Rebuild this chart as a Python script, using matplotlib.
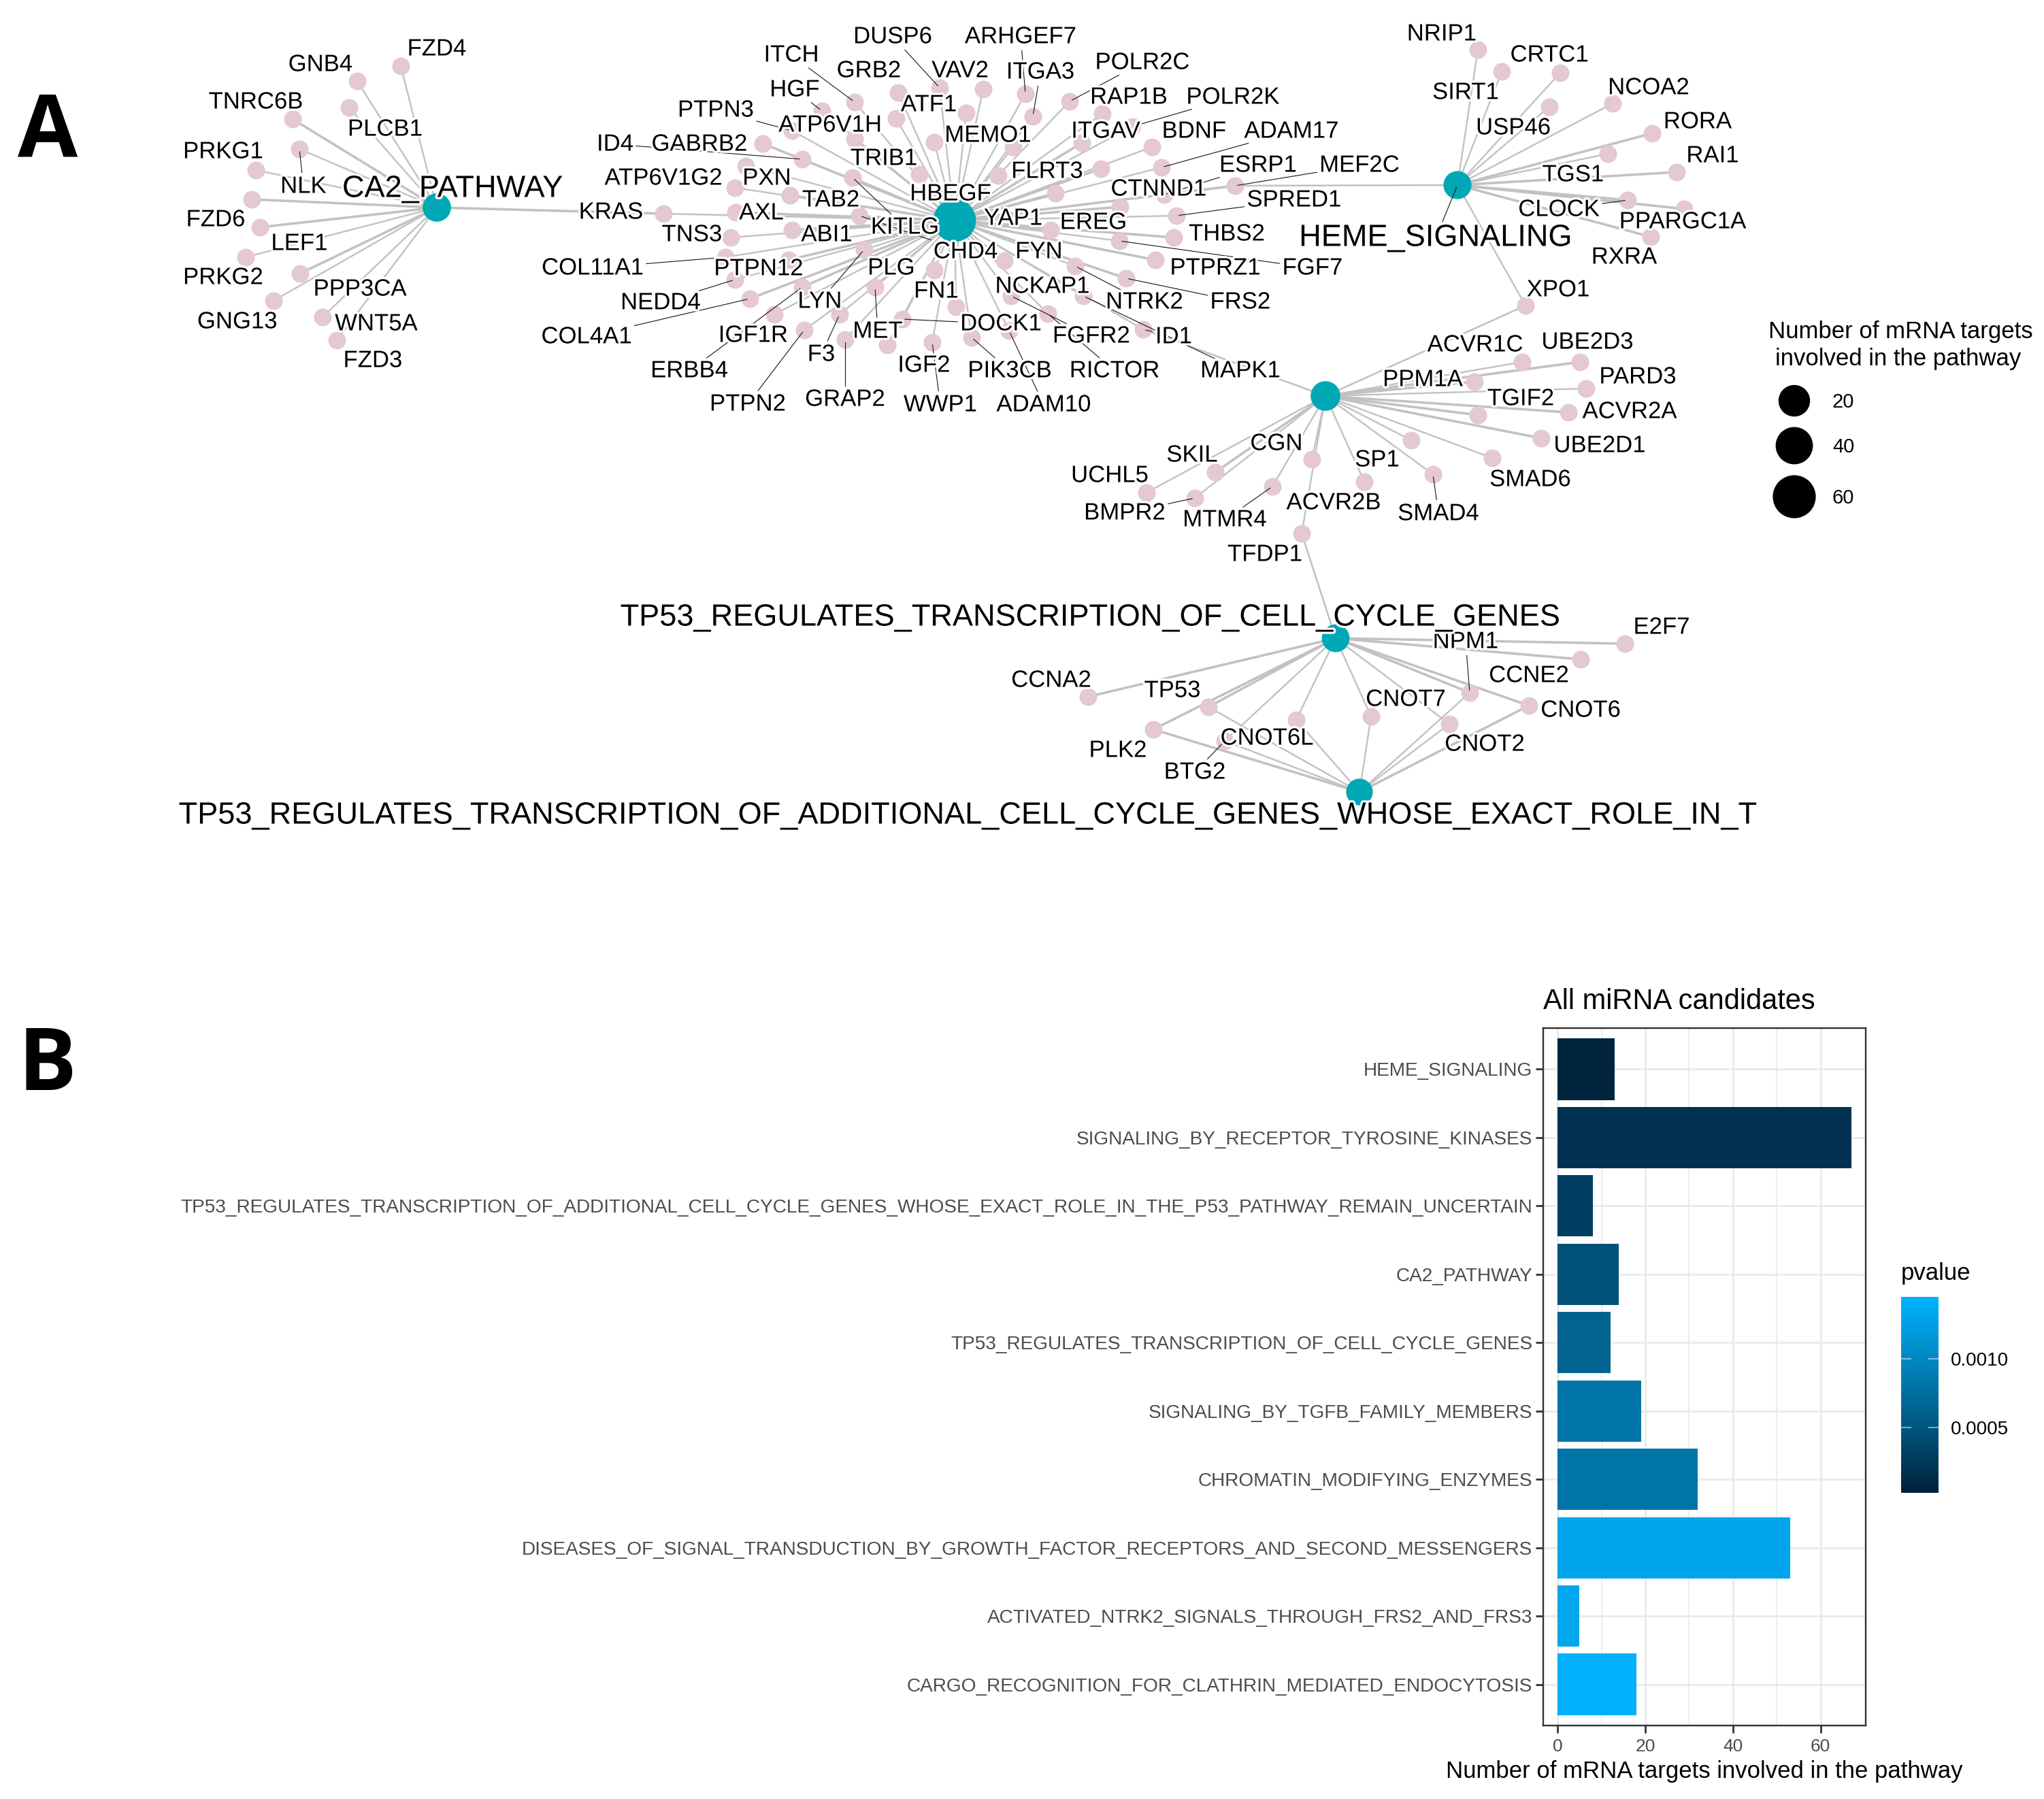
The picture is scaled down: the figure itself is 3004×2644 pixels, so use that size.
import matplotlib
matplotlib.use("Agg")
import matplotlib.pyplot as plt
import matplotlib.patheffects as pe
from matplotlib.colors import LinearSegmentedColormap, Normalize
from matplotlib.cm import ScalarMappable
import numpy as np

plt.rcParams['font.family'] = ['Liberation Sans', 'DejaVu Sans']

W, H = 3004, 2644
DPI = 100

# ---------- Panel B data ----------
pathways = ["HEME_SIGNALING", "SIGNALING_BY_RECEPTOR_TYROSINE_KINASES",
            "TP53_REGULATES_TRANSCRIPTION_OF_ADDITIONAL_CELL_CYCLE_GENES_WHOSE_EXACT_ROLE_IN_THE_P53_PATHWAY_REMAIN_UNCERTAIN",
            "CA2_PATHWAY", "TP53_REGULATES_TRANSCRIPTION_OF_CELL_CYCLE_GENES",
            "SIGNALING_BY_TGFB_FAMILY_MEMBERS", "CHROMATIN_MODIFYING_ENZYMES",
            "DISEASES_OF_SIGNAL_TRANSDUCTION_BY_GROWTH_FACTOR_RECEPTORS_AND_SECOND_MESSENGERS",
            "ACTIVATED_NTRK2_SIGNALS_THROUGH_FRS2_AND_FRS3",
            "CARGO_RECOGNITION_FOR_CLATHRIN_MEDIATED_ENDOCYTOSIS"]
counts = [13, 67, 8, 14, 12, 19, 32, 53, 5, 18]
pvalues = [0.00006, 0.00018, 0.00030, 0.00046, 0.00063, 0.00080, 0.00080, 0.00131, 0.00133, 0.00142]
xticks_b = [0, 20, 40, 60]
cbar_ticks = [0.0005, 0.0010]

# ---------- Panel A data: network layout ----------
hub_names = ["CA2_PATHWAY", "", "HEME_SIGNALING", "",
             "TP53_REGULATES_TRANSCRIPTION_OF_CELL_CYCLE_GENES",
             "TP53_REGULATES_TRANSCRIPTION_OF_ADDITIONAL_CELL_CYCLE_GENES_WHOSE_EXACT_ROLE_IN_T"]
hub_x = [642, 1403, 2142, 1948, 1963, 1998]
hub_y = [305, 324, 272, 582, 938, 1164]
hub_lx = [665, 0, 2110, 0, 1602, 1422]
hub_ly = [273, 0, 345, 0, 903, 1194]
hub_n = [14, 67, 13, 19, 12, 8]

ca2_genes = ["FZD4", "GNB4", "PLCB1", "TNRC6B", "NLK", "PRKG1", "FZD6", "LEF1", "PRKG2", "PPP3CA", "GNG13", "WNT5A", "FZD3", "KRAS"]
ca2_x = [589, 525, 513, 430, 440, 376, 370, 382, 361, 441, 402, 474, 495, 975]
ca2_y = [97, 119, 158, 175, 219, 250, 293, 334, 378, 402, 442, 466, 500, 314]
ca2_lx = [642, 471, 566, 376, 446, 328, 317, 440, 328, 529, 349, 553, 548, 898]
ca2_ly = [69, 92, 187, 147, 271, 220, 320, 355, 405, 422, 470, 473, 527, 309]

sig_genes = ["ITCH", "HGF", "PTPN3", "ATP6V1H", "GRB2", "DUSP6", "VAV2", "ARHGEF7", "ITGA3", "POLR2C",
             "RAP1B", "POLR2K", "ATF1", "MEMO1", "ITGAV", "BDNF", "ADAM17", "FLRT3", "TRIB1", "HBEGF",
             "KITLG", "GABRB2", "ID4", "ATP6V1G2", "PXN", "TAB2", "AXL", "TNS3", "ABI1", "COL11A1",
             "PTPN12", "NEDD4", "COL4A1", "ERBB4", "IGF1R", "PTPN2", "F3", "GRAP2", "LYN", "MET",
             "DOCK1", "CHD4", "PLG", "FN1", "WWP1", "IGF2", "PIK3CB", "ADAM10", "RICTOR", "FGFR2",
             "FYN", "NCKAP1", "YAP1", "EREG", "NTRK2", "MAPK1", "ID1", "FRS2", "FGF7", "PTPRZ1",
             "THBS2", "SPRED1", "CTNND1", "ESRP1", "MEF2C", ""]
sig_x = [1256, 1208, 1164, 1256, 1320, 1381, 1445, 1507, 1518, 1572,
         1620, 1664, 1317, 1420, 1590, 1693, 1707, 1618, 1351, 1373,
         1253, 1121, 1179, 1080, 1096, 1161, 1081, 1074, 1164, 1066,
         1159, 1080, 1102, 1179, 1138, 1182, 1234, 1242, 1270, 1286,
         1326, 1263, 1373, 1405, 1370, 1304, 1428, 1483, 1540, 1486,
         1476, 1467, 1551, 1544, 1580, 1592, 1680, 1655, 1645, 1698,
         1725, 1729, 1646, 1711, 1815, 1489]
sig_y = [150, 163, 192, 204, 136, 129, 131, 138, 171, 149,
         167, 186, 174, 166, 210, 216, 246, 248, 256, 209,
         261, 211, 234, 276, 244, 287, 312, 349, 338, 378,
         382, 411, 439, 422, 462, 485, 462, 499, 367, 422,
         469, 317, 397, 451, 503, 507, 496, 486, 461, 435,
         383, 258, 284, 338, 391, 435, 484, 409, 354, 382,
         349, 317, 304, 286, 273, 216]
sig_lx = [1163, 1168, 1052, 1220, 1277, 1312, 1411, 1500, 1529, 1679,
          1659, 1812, 1365, 1452, 1625, 1755, 1898, 1539, 1299, 1397,
          1330, 1028, 904, 975, 1127, 1221, 1119, 1017, 1215, 871,
          1115, 971, 862, 1013, 1107, 1099, 1207, 1242, 1205, 1290,
          1471, 1419, 1310, 1376, 1382, 1358, 1484, 1534, 1638, 1604,
          1527, 1532, 1489, 1607, 1682, 1823, 1725, 1823, 1929, 1786,
          1803, 1902, 1703, 1849, 1998, 0]
sig_ly = [78, 129, 159, 181, 101, 51, 101, 51, 103, 89,
          140, 140, 151, 196, 190, 190, 190, 249, 230, 282,
          331, 209, 209, 259, 259, 291, 310, 342, 342, 391,
          392, 442, 492, 542, 490, 591, 518, 584, 440, 484,
          473, 367, 391, 425, 592, 534, 542, 592, 542, 491,
          367, 418, 318, 324, 441, 542, 492, 441, 391, 391,
          341, 291, 275, 240, 240, 0]

heme_genes = ["NRIP1", "SIRT1", "CRTC1", "USP46", "NCOA2", "RORA", "TGS1", "RAI1", "CLOCK", "PPARGC1A", "RXRA", "XPO1"]
heme_x = [2172, 2207, 2293, 2277, 2370, 2428, 2363, 2464, 2392, 2475, 2426, 2242]
heme_y = [73, 105, 107, 157, 152, 196, 226, 253, 294, 307, 348, 449]
heme_lx = [2119, 2154, 2277, 2224, 2423, 2495, 2312, 2517, 2291, 2473, 2387, 2290]
heme_ly = [47, 133, 78, 185, 126, 176, 254, 226, 305, 323, 375, 423]

tgfb_genes = ["ACVR1C", "UBE2D3", "PPM1A", "PARD3", "ACVR2A", "TGIF2", "UBE2D1", "SP1", "SMAD6", "SMAD4",
              "ACVR2B", "CGN", "MTMR4", "BMPR2", "SKIL", "UCHL5", "TFDP1"]
tgfb_x = [2237, 2322, 2167, 2331, 2305, 2172, 2265, 2074, 2193, 2106, 2005, 1928, 1870, 1756, 1786, 1685, 1913]
tgfb_y = [532, 532, 561, 571, 606, 610, 644, 647, 673, 697, 708, 675, 715, 732, 694, 724, 784]
tgfb_lx = [2168, 2333, 2091, 2407, 2395, 2235, 2351, 2024, 2249, 2114, 1960, 1876, 1800, 1653, 1752, 1631, 1859]
tgfb_ly = [504, 500, 555, 551, 602, 583, 652, 673, 702, 752, 736, 649, 761, 751, 666, 696, 812]

tp53_genes = ["E2F7", "CCNE2", "NPM1", "CNOT6", "CNOT2", "CNOT7", "CNOT6L", "TP53", "CCNA2", "PLK2", "BTG2"]
tp53_x = [2388, 2323, 2160, 2247, 2130, 2015, 1905, 1776, 1599, 1695, 1800]
tp53_y = [946, 969, 1018, 1037, 1064, 1053, 1058, 1039, 1024, 1072, 1089]
tp53_lx = [2442, 2247, 2154, 2323, 2182, 2066, 1862, 1723, 1545, 1643, 1756]
tp53_ly = [919, 990, 940, 1041, 1091, 1025, 1082, 1012, 997, 1100, 1132]

tp53_add_genes = ["NPM1", "CNOT6", "CNOT2", "CNOT7", "CNOT6L", "TP53", "PLK2", "BTG2"]
shared_edges = [("KRAS", 1), ("ID1", 3), ("MEF2C", 2), ("XPO1", 3), ("TFDP1", 4)]

leader_genes = {"NLK", "ITCH", "HGF", "PTPN3", "DUSP6", "ARHGEF7", "ITGA3", "POLR2C", "POLR2K", "ADAM17", "KITLG",
                "ID4", "COL11A1", "NEDD4", "COL4A1", "ERBB4", "PTPN2", "F3", "GRAP2", "LYN", "MET", "DOCK1",
                "CHD4", "WWP1", "PIK3CB", "ADAM10", "RICTOR", "FGFR2", "NTRK2", "MAPK1", "ID1", "FRS2", "FGF7",
                "SPRED1", "ESRP1", "MEF2C", "CLOCK", "SMAD4", "MTMR4", "BMPR2", "NPM1", "BTG2"}
thick_genes = {"FZD6", "LEF1", "TNRC6B", "PPP3CA", "KRAS", "AXL", "ABI1", "ERBB4", "COL4A1", "TAB2", "GABRB2", "ATP6V1H",
               "MEF2C", "YAP1", "CTNND1", "PTPRZ1", "EREG", "FLRT3", "FRS2", "ITGAV", "THBS2", "PTPN12",
               "RAI1", "RORA", "PPARGC1A", "RXRA", "CLOCK", "ACVR2A", "TGIF2", "PPM1A", "UBE2D3", "UBE2D1",
               "SKIL", "E2F7", "CCNE2", "CCNA2", "TP53", "PLK2", "NPM1", "CNOT6"}
legend_sizes = [20, 40, 60]
legend_y = [589, 655, 730]
legend_x = 2637

# ---------- Figure ----------
fig = plt.figure(figsize=(W / DPI, H / DPI), dpi=DPI, facecolor="white")
ax = fig.add_axes([0, 0, 1, 1])
ax.set_xlim(0, W)
ax.set_ylim(H, 0)
ax.axis("off")

HUB = "#00A8B5"
PINK = "#E4C8D4"
EDGE = "#C2C2C2"
px = 72 / DPI

groups = [(ca2_genes, ca2_x, ca2_y, ca2_lx, ca2_ly, 0),
          (sig_genes, sig_x, sig_y, sig_lx, sig_ly, 1),
          (heme_genes, heme_x, heme_y, heme_lx, heme_ly, 2),
          (tgfb_genes, tgfb_x, tgfb_y, tgfb_lx, tgfb_ly, 3),
          (tp53_genes, tp53_x, tp53_y, tp53_lx, tp53_ly, 4)]

pos = {}
for g, xs, ys, lxs, lys, hub in groups:
    assert len(g) == len(xs) == len(ys) == len(lxs) == len(lys)
    for n, x, y in zip(g, xs, ys):
        w = (3.6 if n in thick_genes else 2.4) * px
        ax.plot([hub_x[hub], x], [hub_y[hub], y], color=EDGE, lw=w, zorder=1, solid_capstyle="round")
        if n:
            pos[n] = (x, y)
for n, hub in shared_edges:
    ax.plot([hub_x[hub], pos[n][0]], [hub_y[hub], pos[n][1]], color=EDGE, lw=2.6 * px, zorder=1)
for n in tp53_add_genes:
    w = (3.6 if n in {"PLK2", "CNOT6"} else 2.4) * px
    ax.plot([hub_x[5], pos[n][0]], [hub_y[5], pos[n][1]], color=EDGE, lw=w, zorder=1)

for g, xs, ys, lxs, lys, hub in groups:
    ax.scatter(xs, ys, s=(26 * px) ** 2, color=PINK, linewidths=0, zorder=2)
ax.scatter(hub_x, hub_y, s=[((36 + 0.4 * n) * px) ** 2 for n in hub_n], color=HUB, linewidths=0, zorder=3)

halo = [pe.withStroke(linewidth=4 * px * 1.6, foreground="white")]
texts = []
for g, xs, ys, lxs, lys, hub in groups:
    for n, x, y, lx, ly in zip(g, xs, ys, lxs, lys):
        if n:
            t = ax.text(lx, ly + 3, n, fontsize=25, ha="center", va="center", color="black",
                        zorder=6, path_effects=halo)
            texts.append((n, t, x, y))
for n, x, y, lx, ly in zip(hub_names, hub_x, hub_y, hub_lx, hub_ly):
    if n:
        t = ax.text(lx, ly + 5, n, fontsize=32.5, ha="center", va="center", color="black",
                    zorder=6, path_effects=halo)
        texts.append((n, t, x, y))

# Leader lines run from the edge of the label box to just short of the node centre
rend = fig.canvas.get_renderer()
for n, t, x, y in texts:
    if n in leader_genes or n == "HEME_SIGNALING":
        bb = t.get_window_extent(rend)
        lx, ly = t.get_position()
        dx, dy = x - lx, y - ly
        dist = max(np.hypot(dx, dy), 1e-6)
        k = min(bb.width / 2 / max(abs(dx), 1e-6), bb.height / 2 / max(abs(dy), 1e-6))
        k = min(k + 4 / dist, 1)
        end = max(1 - 4 / dist, k)
        ax.plot([lx + k * dx, lx + end * dx], [ly + k * dy, ly + end * dy], color="#111111", lw=1.1 * px, zorder=5)

# size legend
ax.scatter([legend_x] * 3, legend_y, s=[((38 + 0.42 * n) * px) ** 2 for n in legend_sizes], color="black", linewidths=0, zorder=3)
for n, y in zip(legend_sizes, legend_y):
    ax.text(2693, y + 2, str(n), fontsize=21, ha="left", va="center")
ax.text(2793, 487, "Number of mRNA targets", fontsize=25, ha="center", va="center")
ax.text(2790, 528, "involved in the pathway", fontsize=25, ha="center", va="center")

# panel letters
ax.text(70, 198, "A", fontsize=92, fontweight="bold", family="Open Sans", ha="center", va="center")
ax.text(69, 1569, "B", fontsize=92, fontweight="bold", family="Open Sans", ha="center", va="center")

# ---------- Panel B ----------
L, R, T, B = 2268, 2742, 1511, 2536
axb = fig.add_axes([L / W, 1 - B / H, (R - L) / W, (B - T) / H])
cmap = LinearSegmentedColormap.from_list("pv", ["#00203A", "#00567F", "#0085BD", "#00B2FF"])
norm = Normalize(0.000027, 0.001447)
ypos = np.arange(len(pathways))
axb.set_axisbelow(True)
axb.set_xlim(-3.3, 70.3)
axb.set_ylim(len(pathways) - 0.4, -0.6)
axb.set_xticks(xticks_b)
axb.set_xticks([10, 30, 50], minor=True)
axb.set_yticks(ypos)
axb.set_yticklabels(pathways, fontsize=20.15, color="#4D4D4D")
axb.tick_params(axis="x", which="major", labelsize=19, labelcolor="#4D4D4D", color="#333333", length=8, width=2, pad=6)
axb.tick_params(axis="x", which="minor", length=0)
axb.tick_params(axis="y", color="#333333", length=8, width=2, pad=3.5)
axb.grid(True, which="major", color="#EBEBEB", lw=3 * px)
axb.grid(True, which="minor", axis="x", color="#EBEBEB", lw=1.6 * px)
axb.barh(ypos, counts, height=0.9, color=[cmap(norm(p)) for p in pvalues], linewidth=0, zorder=3)
for s in axb.spines.values():
    s.set_color("#333333")
    s.set_linewidth(2.4 * px)
fig.text(2268 / W, 1 - 1472 / H, "All miRNA candidates", fontsize=30, ha="left", va="center")
fig.text(2505 / W, 1 - 2604 / H, "Number of mRNA targets involved in the pathway", fontsize=25, ha="center", va="center")

# colour bar
cax = fig.add_axes([2794 / W, 1 - 2194 / H, 55 / W, 288 / H])
cb = fig.colorbar(ScalarMappable(norm=norm, cmap=cmap), cax=cax)
cb.outline.set_visible(False)
cb.set_ticks(cbar_ticks)
cb.set_ticklabels(["0.0005", "0.0010"])
cax.tick_params(axis="y", direction="in", length=11, width=1.2, color=(1, 1, 1, 0.6), left=True, right=True,
                labelsize=20, pad=13)
fig.text(2794 / W, 1 - 1871 / H, "pvalue", fontsize=25, ha="left", va="center")

fig.savefig("out.png", dpi=DPI, facecolor="white")
